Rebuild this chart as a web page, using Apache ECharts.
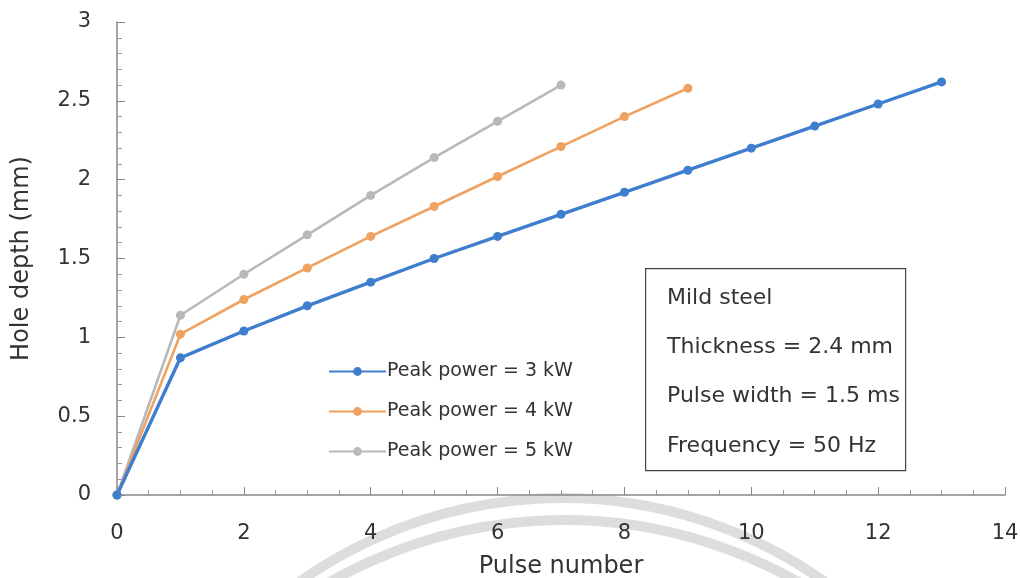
<!DOCTYPE html>
<html><head><meta charset="utf-8">
<script src="https://cdn.jsdelivr.net/npm/echarts@6/dist/echarts.min.js"></script>
<style>html,body{margin:0;padding:0;background:#fff}#c{width:1020px;height:578px}</style>
</head><body><div id="c"></div>
<script>
const pulses3 = [0,1,2,3,4,5,6,7,8,9,10,11,12,13];
const depth3 = [0,0.87,1.04,1.20,1.35,1.50,1.64,1.78,1.92,2.06,2.20,2.34,2.48,2.62];
const pulses4 = [0,1,2,3,4,5,6,7,8,9];
const depth4 = [0,1.02,1.24,1.44,1.64,1.83,2.02,2.21,2.40,2.58];
const pulses5 = [0,1,2,3,4,5,6,7];
const depth5 = [0,1.14,1.40,1.65,1.90,2.14,2.37,2.60];
const seriesNames = ['Peak power = 3 kW','Peak power = 4 kW','Peak power = 5 kW'];
const noteLines = ['Mild steel','Thickness = 2.4 mm','Pulse width = 1.5 ms','Frequency = 50 Hz'];
const colors = ['#3f7dcf','#efa260','#b9b9b9'];

const chart = echarts.init(document.getElementById('c'));
const font = '"DejaVu Sans", "Noto Sans", sans-serif';
function pairs(xs, ys){ return xs.map((x,i)=>[x, ys[i]]); }
const datas = [pairs(pulses3,depth3), pairs(pulses4,depth4), pairs(pulses5,depth5)];
const widths = [3.4, 2.6, 2.6];

chart.setOption({
  animation:false,
  grid:{left:117, right:15, top:22, bottom:83, containLabel:false, outerBoundsMode:'none'},
  legend:{
    orient:'vertical', left:323, top:357, itemGap:21, itemWidth:57, itemHeight:11,
    textStyle:{fontFamily:font, fontSize:19, color:'#333', padding:[0,0,0,-4]},
    data:seriesNames
  },
  xAxis:{
    type:'value', min:0, max:14, interval:2,
    name:'Pulse number', nameLocation:'middle', nameGap:60,
    nameTextStyle:{fontFamily:font, fontSize:24, color:'#333'},
    axisLine:{show:true, lineStyle:{color:'#888', width:1.5}},
    axisTick:{show:true, inside:true, length:8, lineStyle:{color:'#888'}},
    minorTick:{show:true, splitNumber:4, length:5, lineStyle:{color:'#999'}},
    axisLabel:{fontFamily:font, fontSize:21, color:'#333', margin:28},
    splitLine:{show:false}
  },
  yAxis:{
    type:'value', min:0, max:3, interval:0.5,
    name:'Hole depth (mm)', nameLocation:'middle', nameGap:83, nameRotate:90,
    nameTextStyle:{fontFamily:font, fontSize:24, color:'#333'},
    axisLine:{show:true, lineStyle:{color:'#888', width:1.5}},
    axisTick:{show:true, inside:true, length:8, lineStyle:{color:'#888'}},
    minorTick:{show:true, splitNumber:5, length:5, lineStyle:{color:'#999'}},
    axisLabel:{fontFamily:font, fontSize:21, color:'#333', margin:26},
    splitLine:{show:false}
  },
  series: datas.map((d,i)=>({
    name:seriesNames[i], type:'line', data:d, symbol:'circle', symbolSize:9,
    lineStyle:{color:colors[i], width:widths[i]}, itemStyle:{color:colors[i]},
    z: 3-i
  })),
  graphic:[
    {type:'arc', shape:{cx:562, cy:951, r:453, startAngle:Math.PI*1.1, endAngle:Math.PI*1.9},
     style:{stroke:'#dddddd', lineWidth:10, fill:null}, z:-1, silent:true},
    {type:'arc', shape:{cx:564, cy:993, r:473, startAngle:Math.PI*1.1, endAngle:Math.PI*1.9},
     style:{stroke:'#dddddd', lineWidth:10, fill:null}, z:-1, silent:true},
    {type:'rect', left:645, top:268, shape:{width:260, height:202},
     style:{fill:'#fff', stroke:'#444', lineWidth:1.2}, z:10},
    ...noteLines.map((t,i)=>({type:'text', left:667, top:287+i*49.3,
      style:{text:t, font:'22px "DejaVu Sans", "Noto Sans", sans-serif', fill:'#333'}, z:11}))
  ]
});
</script></body></html>
